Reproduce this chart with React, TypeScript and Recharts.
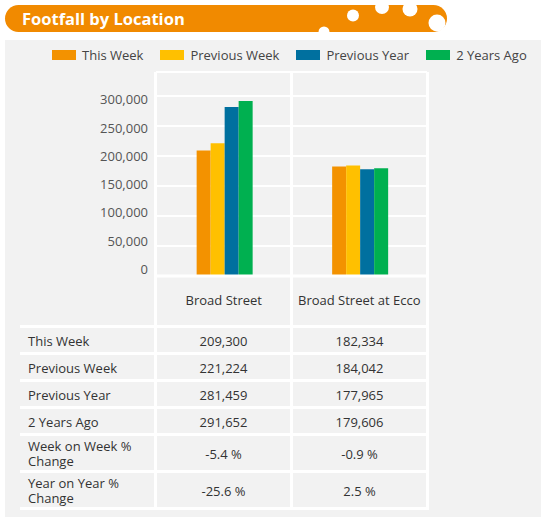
import { BarChart, Bar, XAxis, YAxis, CartesianGrid, Legend } from "recharts";

const locations = ["Broad Street", "Broad Street at Ecco"];
const thisWeek = [209300, 182334];
const previousWeek = [221224, 184042];
const previousYear = [281459, 177965];
const twoYearsAgo = [291652, 179606];
const yTicks = [0, 50000, 100000, 150000, 200000, 250000, 300000];

const FONT = "'Open Sans', 'Noto Sans', sans-serif";
const PANEL = "#f2f2f2";

const series = [
  { key: "thisWeek", name: "This Week", color: "#f39200", values: thisWeek },
  { key: "previousWeek", name: "Previous Week", color: "#ffc000", values: previousWeek },
  { key: "previousYear", name: "Previous Year", color: "#00709f", values: previousYear },
  { key: "twoYearsAgo", name: "2 Years Ago", color: "#00b050", values: twoYearsAgo },
];

const fmt = (v: number) => v.toLocaleString("en-US");
const pct = (now: number, then: number) => `${(((now - then) / then) * 100).toFixed(1)} %`;

const tableRows: { label: string; cells: string[] }[] = [
  ...series.map((s) => ({ label: s.name, cells: s.values.map(fmt) })),
  { label: "Week on Week % Change", cells: locations.map((_, i) => pct(thisWeek[i], previousWeek[i])) },
  { label: "Year on Year % Change", cells: locations.map((_, i) => pct(thisWeek[i], previousYear[i])) },
];

// the y labels in the original sit on a slightly tighter pitch than the gridlines
function YTick({ x, y, payload }: any) {
  const ly = 7.25 + 0.941 * y;
  return (
    <text x={x} y={ly} dy="0.35em" textAnchor="end" fill="#555" fontSize={13} fontFamily={FONT}>
      {fmt(payload.value)}
    </text>
  );
}

function renderLegend(props: any) {
  // keep the series order (recharts sorts legend items by name otherwise)
  const order = series.map((s) => s.name);
  const items = [...(props.payload || [])].sort(
    (a: any, b: any) => order.indexOf(a.value) - order.indexOf(b.value)
  );
  return (
    <div style={{ display: "flex", gap: 17, paddingLeft: 52, fontSize: 13, color: "#444", fontFamily: FONT }}>
      {items.map((e: any) => (
        <span key={e.value} style={{ display: "flex", alignItems: "center" }}>
          <span style={{ width: 24, height: 10, background: e.color, marginRight: 6 }} />
          {e.value}
        </span>
      ))}
    </div>
  );
}

function Header() {
  return (
    <svg width={460} height={40} style={{ position: "absolute", left: 0, top: 0 }}>
      <rect x={5} y={5} width={442} height={27} rx={13.5} fill="#f18a00" />
      <circle cx={324} cy={32} r={5.5} fill="#fff" />
      <circle cx={353} cy={15.5} r={6} fill="#fff" />
      <circle cx={382} cy={7} r={7} fill="#fff" />
      <circle cx={410} cy={9} r={7.5} fill="#fff" />
      <circle cx={437} cy={23} r={8.5} fill="#fff" />
      <text x={22} y={25} fill="#fff" fontSize={16.5} fontWeight={700} fontFamily={FONT}>
        Footfall by Location
      </text>
    </svg>
  );
}

export default function App() {
  const data = locations.map((name, i) => {
    const row: Record<string, string | number> = { name };
    series.forEach((s) => (row[s.key] = s.values[i]));
    return row;
  });

  const cell = { background: PANEL };
  const textCell = {
    ...cell,
    fontSize: 13,
    color: "#333",
    lineHeight: "15px",
    display: "flex",
    alignItems: "center",
    paddingTop: 2,
    boxSizing: "border-box" as const,
  };

  return (
    <div
      style={{
        position: "absolute",
        left: 0,
        top: 0,
        width: 541,
        height: 517,
        background: "#fff",
        fontFamily: FONT,
        overflow: "hidden",
      }}
    >
      <Header />
      <div style={{ position: "absolute", left: 5, top: 40, width: 536, height: 477, background: PANEL }} />

      {/* table frame: white gaps form the column and row rules */}
      <div
        style={{
          position: "absolute",
          left: 20,
          top: 72,
          width: 406,
          display: "grid",
          gridTemplateColumns: "134px 133px 133px",
          gridTemplateRows: "253px 24px 24px 24px 24px 34px 34px",
          columnGap: 3,
          rowGap: 3,
          paddingRight: 3,
          paddingBottom: 3,
          background: "#fff",
        }}
      >
        <div style={cell} />
        <div style={cell} />
        <div style={cell} />
        {tableRows.map((r) => [
          <div key={r.label} style={{ ...textCell, paddingLeft: 8, paddingRight: 4 }}>
            {r.label}
          </div>,
          ...r.cells.map((c, j) => (
            <div key={r.label + j} style={{ ...textCell, justifyContent: "center" }}>
              {c}
            </div>
          )),
        ])}
      </div>

      <div style={{ position: "absolute", left: 0, top: 40 }}>
        <BarChart
          width={541}
          height={290}
          data={data}
          margin={{ top: 32, right: 114, bottom: 6, left: 76 }}
          barGap={0}
          barCategoryGap="30%"
        >
          <CartesianGrid vertical={false} stroke="#fff" strokeWidth={2} />
          <XAxis
            dataKey="name"
            interval={0}
            height={48}
            tickLine={false}
            tickMargin={14}
            axisLine={{ stroke: "#fff", strokeWidth: 3 }}
            tick={{ fill: "#333", fontSize: 13, fontFamily: FONT }}
          />
          <YAxis
            width={80}
            domain={[0, 340000]}
            ticks={yTicks}
            axisLine={false}
            tickLine={false}
            tick={<YTick />}
          />
          <Legend
            layout="horizontal"
            verticalAlign="middle"
            align="center"
            wrapperStyle={{ top: 6, left: 0, width: 541 }}
            content={renderLegend}
          />
          {series.map((s) => (
            <Bar key={s.key} dataKey={s.key} name={s.name} fill={s.color} isAnimationActive={false} />
          ))}
        </BarChart>
      </div>
    </div>
  );
}
